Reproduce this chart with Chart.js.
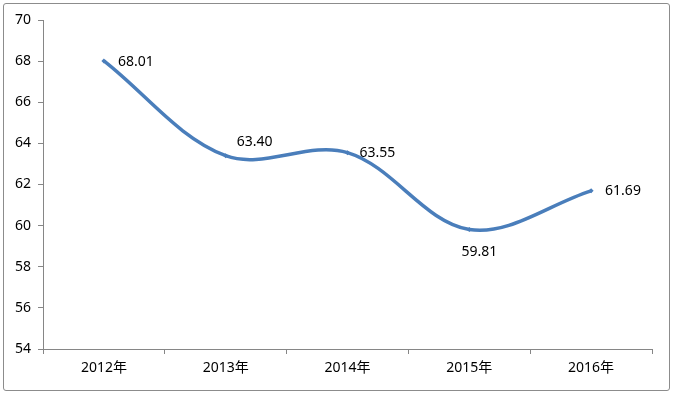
<!DOCTYPE html>
<html>
<head>
<meta charset="utf-8">
<script src="https://cdn.jsdelivr.net/npm/chart.js@4.4.0/dist/chart.umd.min.js"></script>
<style>
    html, body { margin: 0; padding: 0; background: #fff; }
    #frame {
        position: absolute; left: 3px; top: 3px;
        width: 667px; height: 388px; box-sizing: border-box;
        border: 1px solid #8c8c8c; border-radius: 3px; background: #fff;
    }
    #chart { display: block; }
</style>
</head>
<body>
<div id="frame"><canvas id="chart" width="665" height="386"></canvas></div>
<script>
    // chart data
    const years = ['2012年', '2013年', '2014年', '2015年', '2016年'];
    const values = [68.01, 63.40, 63.55, 59.81, 61.69];
    const yTicks = [54, 56, 58, 60, 62, 64, 66, 68, 70];

    // where each value label sits relative to its point (px)
    const labelOffsets = [[14, 1], [11, -14], [12, 0], [10, 22], [14, 0]];

    const FONT = "'Noto Sans', 'Noto Sans CJK SC', sans-serif";
    const AXIS = '#868686';

    // draws the value labels next to the points
    const valueLabels = {
        id: 'valueLabels',
        afterDatasetsDraw(chart) {
            const ctx = chart.ctx;
            const meta = chart.getDatasetMeta(0);
            ctx.save();
            ctx.font = '14px ' + FONT;
            ctx.fillStyle = '#000';
            ctx.textBaseline = 'middle';
            meta.data.forEach((pt, i) => {
                const off = labelOffsets[i];
                // the 2015 label sits centred under its point
                ctx.textAlign = i === 3 ? 'center' : 'left';
                ctx.fillText(values[i].toFixed(2), pt.x + off[0], pt.y + off[1]);
            });
            ctx.restore();
        }
    };

    new Chart(document.getElementById('chart').getContext('2d'), {
        type: 'line',
        data: {
            labels: years,
            datasets: [{
                data: values,
                borderColor: '#4a7ebb',
                borderWidth: 3.5,
                tension: 0.35,
                pointStyle: 'rectRot',
                pointRadius: 2.5,
                pointBackgroundColor: '#4a7ebb',
                pointBorderWidth: 0,
                fill: false
            }]
        },
        options: {
            responsive: false,
            animation: false,
            layout: { padding: { left: 0, right: 17, top: 16, bottom: 0 } },
            plugins: {
                legend: { display: false },
                tooltip: { enabled: false }
            },
            scales: {
                x: {
                    offset: true,
                    grid: { drawOnChartArea: false, color: AXIS, tickLength: 5, offset: true },
                    border: { color: AXIS, width: 1 },
                    ticks: { color: '#000', font: { size: 14, family: FONT }, padding: 6, maxRotation: 0 },
                    afterFit(scale) { scale.height = 41; }
                },
                y: {
                    min: 54,
                    max: 70,
                    afterBuildTicks(scale) { scale.ticks = yTicks.map(v => ({ value: v })); },
                    grid: { drawOnChartArea: false, color: AXIS, tickLength: 5 },
                    border: { color: AXIS, width: 1 },
                    ticks: { color: '#000', font: { size: 14, family: FONT }, padding: 7 },
                    afterFit(scale) { scale.width = 39; }
                }
            }
        },
        plugins: [valueLabels]
    });
</script>
</body>
</html>
